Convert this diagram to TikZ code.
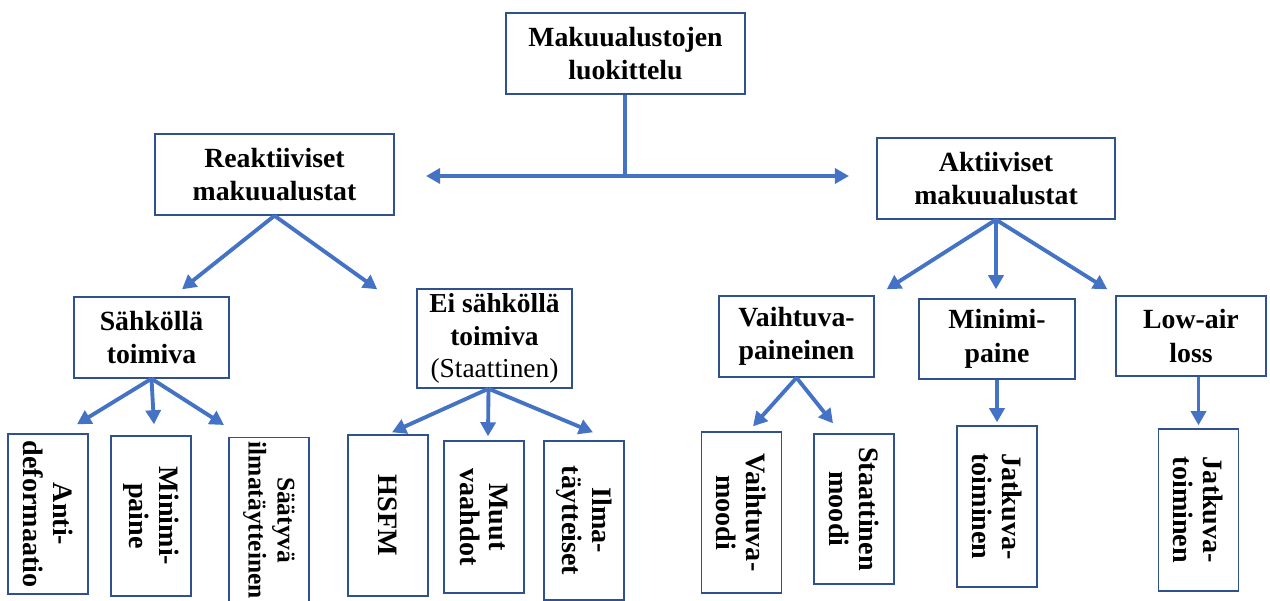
\documentclass[tikz,border=0pt]{standalone}
\usepackage{fontspec}
\setmainfont{Liberation Serif}
\usetikzlibrary{arrows.meta, calc}
\definecolor{boxblue}{RGB}{47, 82, 143}
\definecolor{arrowblue}{RGB}{68, 114, 196}

\begin{document}
\begin{tikzpicture}[x=0.02cm, y=-0.02cm,
    box/.style={rectangle, draw=boxblue, line width=0.8pt, inner sep=0pt, align=center,
                font=\bfseries\fontsize{15.8}{19}\selectfont},
    boxsize/.style 2 args={minimum width=#1*0.02cm, minimum height=#2*0.02cm},
    leaf/.style={box, rotate=-90, minimum height=80*0.02cm,
                 font=\bfseries\fontsize{16}{17}\selectfont},
    leaflen/.style={minimum width=#1*0.02cm},
    link/.style={draw=arrowblue, line width=2.2pt},
    arr/.style={link, -{Triangle[length=8pt, width=8.5pt]}}]

    \useasboundingbox (0,0) rectangle (1270,601);

    % Root
    \node[box, boxsize={239}{81}] (root) at (625.5, 53.5) {Makuualustojen\\luokittelu};

    % Main groups
    \node[box, boxsize={239}{81}] (reak) at (274.5, 174.5) {Reaktiiviset\\makuualustat};
    \node[box, boxsize={238}{81}] (akt) at (996, 178.5) {Aktiiviset\\makuualustat};

    % Subgroups
    \node[box, boxsize={155}{99}, font=\bfseries\fontsize{15.6}{18.4}\selectfont] (ei) at (494.5, 338.5)
        {Ei sähköllä\\toimiva\\{\mdseries(Staattinen)}};
    \node[box, boxsize={155}{81}] (sahko) at (151.5, 337.5) {Sähköllä\\toimiva};
    \node[box, boxsize={155}{81}] (vaih) at (796.5, 336.5) {Vaihtuva-\\paineinen};
    \node[box, boxsize={156}{80}] (mini) at (997, 339) {Minimi-\\paine};
    \node[box, boxsize={150}{80}] (low) at (1191, 336) {Low-air\\loss};

    % Leaves
    \node[leaf, leaflen=160] (anti) at (48, 514) {Anti-\\deformaatio};
    \node[leaf, leaflen=160] (minb) at (151, 516) {Minimi-\\paine};
    \node[leaf, leaflen=165, anchor=west, font=\bfseries\fontsize{14.5}{16.5}\selectfont] (saat) at (269, 437)
        {Säätyvä\\ilmatäytteinen};
    \node[leaf, leaflen=161] (hsfm) at (388, 515.5) {HSFM};
    \node[leaf, leaflen=152] (muut) at (484, 517) {Muut\\vaahdot};
    \node[leaf, leaflen=159] (ilma) at (584, 520.5) {Ilma-\\täytteiset};
    \node[leaf, leaflen=161] (vmoodi) at (741.5, 512.5) {Vaihtuva-\\moodi};
    \node[leaf, leaflen=150] (smoodi) at (854, 509) {Staattinen\\moodi};
    \node[leaf, leaflen=161] (jatka) at (997, 506.5) {Jatkuva-\\toiminen};
    \node[leaf, leaflen=162] (jatkb) at (1198.5, 510) {Jatkuva-\\toiminen};

    % Split from root
    \coordinate (split) at (625, 176);
    \coordinate (tipL) at (426, 176);
    \coordinate (tipR) at (849, 176);
    \draw[link] (root.south -| split) -- (split);
    \draw[arr] (split) -- (tipL);
    \draw[arr] (split) -- (tipR);

    % Arrows to subgroups
    \draw[arr] (reak.south) -- ($(sahko.north)+(30.5,-7)$);
    \draw[arr] (reak.south) -- ($(ei.north west)+(-39,1)$);
    \draw[arr] (akt.south) -- ($(vaih.north east)+(12,-6)$);
    \draw[arr] (akt.south) -- ($(mini.north)+(-1,-9)$);
    \draw[arr] (akt.south) -- ($(low.north west)+(-8,-6)$);

    % Arrows to leaves
    \draw[arr] (sahko.south) -- ($(anti.west)+(29,-9)$);
    \draw[arr] (sahko.south) -- ($(minb.west)+(3,-11)$);
    \draw[arr] (sahko.south) -- ($(saat.west)+(-45,-12)$);
    \draw[arr] ($(ei.south)+(-6,0)$) -- ($(hsfm.west)+(4,-2)$);
    \draw[arr] ($(ei.south)+(-6,0)$) -- ($(muut.west)+(4,-4)$);
    \draw[arr] ($(ei.south)+(-6,0)$) -- ($(ilma.west)+(9,-8)$);
    \draw[arr] (vaih.south) -- ($(vmoodi.west)+(11.5,-5)$);
    \draw[arr] (vaih.south) -- ($(smoodi.west)+(-21,-10)$);
    \draw[arr] (mini.south -| jatka) -- ($(jatka.west)+(0,-3)$);
    \draw[arr] (low.south -| jatkb) -- ($(jatkb.west)+(0,-3)$);
\end{tikzpicture}
\end{document}
